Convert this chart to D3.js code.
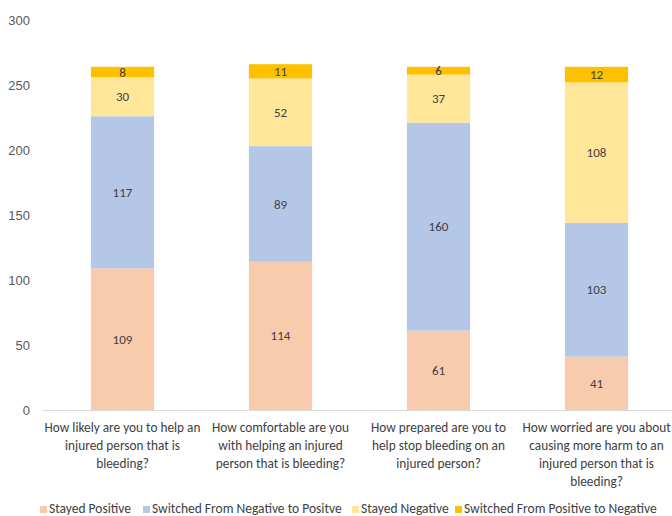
<!DOCTYPE html>
<html><head><meta charset="utf-8">
<script src="https://cdn.jsdelivr.net/npm/d3@7/dist/d3.min.js"></script>
<style>body{margin:0;background:#fff;overflow:hidden}svg{display:block;font-family:Carlito,Calibri,Lato,"Open Sans",sans-serif}</style>
</head><body><svg id="c" width="672" height="516"></svg>
<script>
const categories = [
  ["How likely are you to help an", "injured person that is", "bleeding?"],
  ["How comfortable are you", "with helping an injured", "person that is bleeding?"],
  ["How prepared are you to", "help stop bleeding on an", "injured person?"],
  ["How worried are you about", "causing more harm to an", "injured person that is", "bleeding?"]
];
const seriesNames = ["Stayed Positive", "Switched From Negative to Positve", "Stayed Negative", "Switched From Positive to Negative"];
const stayedPositive = [109, 114, 61, 41];
const negToPos = [117, 89, 160, 103];
const stayedNegative = [30, 52, 37, 108];
const posToNeg = [8, 11, 6, 12];
const colors = ["#F8CBAD", "#B4C7E7", "#FFE699", "#FFC000"];
const yTicks = [0, 50, 100, 150, 200, 250, 300];

const svg = d3.select("#c");
const x = d3.scaleBand().domain(d3.range(categories.length)).range([43.5, 675.5]).paddingInner(0.6).paddingOuter(0.3);
const y = d3.scaleLinear().domain([0, 300]).range([410, 20]);

const rows = categories.map((c, i) => ({i, s0: stayedPositive[i], s1: negToPos[i], s2: stayedNegative[i], s3: posToNeg[i]}));
const stack = d3.stack().keys(["s0","s1","s2","s3"])(rows);

// y axis labels
const ya = svg.append("g").attr("transform", "translate(30,0)")
  .call(d3.axisLeft(y).tickValues(yTicks).tickSize(0).tickPadding(0));
ya.select(".domain").remove();
ya.selectAll("text").attr("fill", "#595959").attr("font-size", 13).attr("font-family", null);

// bars
const g = svg.append("g");
stack.forEach((layer, k) => {
  g.selectAll(null).data(layer).join("rect")
    .attr("x", d => x(d.data.i)).attr("width", x.bandwidth())
    .attr("y", d => y(d[1])).attr("height", d => y(d[0]) - y(d[1]))
    .attr("fill", colors[k]);
  g.selectAll(null).data(layer).join("text")
    .attr("x", d => x(d.data.i) + x.bandwidth() / 2)
    .attr("y", d => (y(d[0]) + y(d[1])) / 2)
    .attr("dy", "0.35em").attr("text-anchor", "middle")
    .attr("font-size", 13).attr("fill", "#404040")
    .text(d => d[1] - d[0]);
});

// x axis
svg.append("line").attr("x1", 43).attr("x2", 672).attr("y1", 410.5).attr("y2", 410.5)
  .attr("stroke", "#D9D9D9").attr("stroke-width", 1);
const xl = svg.append("g");
categories.forEach((lines, i) => {
  const t = xl.append("text").attr("text-anchor", "middle")
    .attr("x", x(i) + x.bandwidth() / 2).attr("y", 432)
    .attr("font-size", 13.3).attr("fill", "#404040");
  lines.forEach((l, j) => t.append("tspan").attr("x", x(i) + x.bandwidth() / 2).attr("dy", j ? 18 : 0).text(l));
});

// legend
const legX = [40, 143, 352, 455];
const lg = svg.append("g");
seriesNames.forEach((n, k) => {
  lg.append("rect").attr("x", legX[k]).attr("y", 506).attr("width", 7).attr("height", 7).attr("fill", colors[k]);
  lg.append("text").attr("x", legX[k] + 9).attr("y", 513).attr("font-size", 13.5).attr("fill", "#404040").text(n);
});
</script></body></html>
